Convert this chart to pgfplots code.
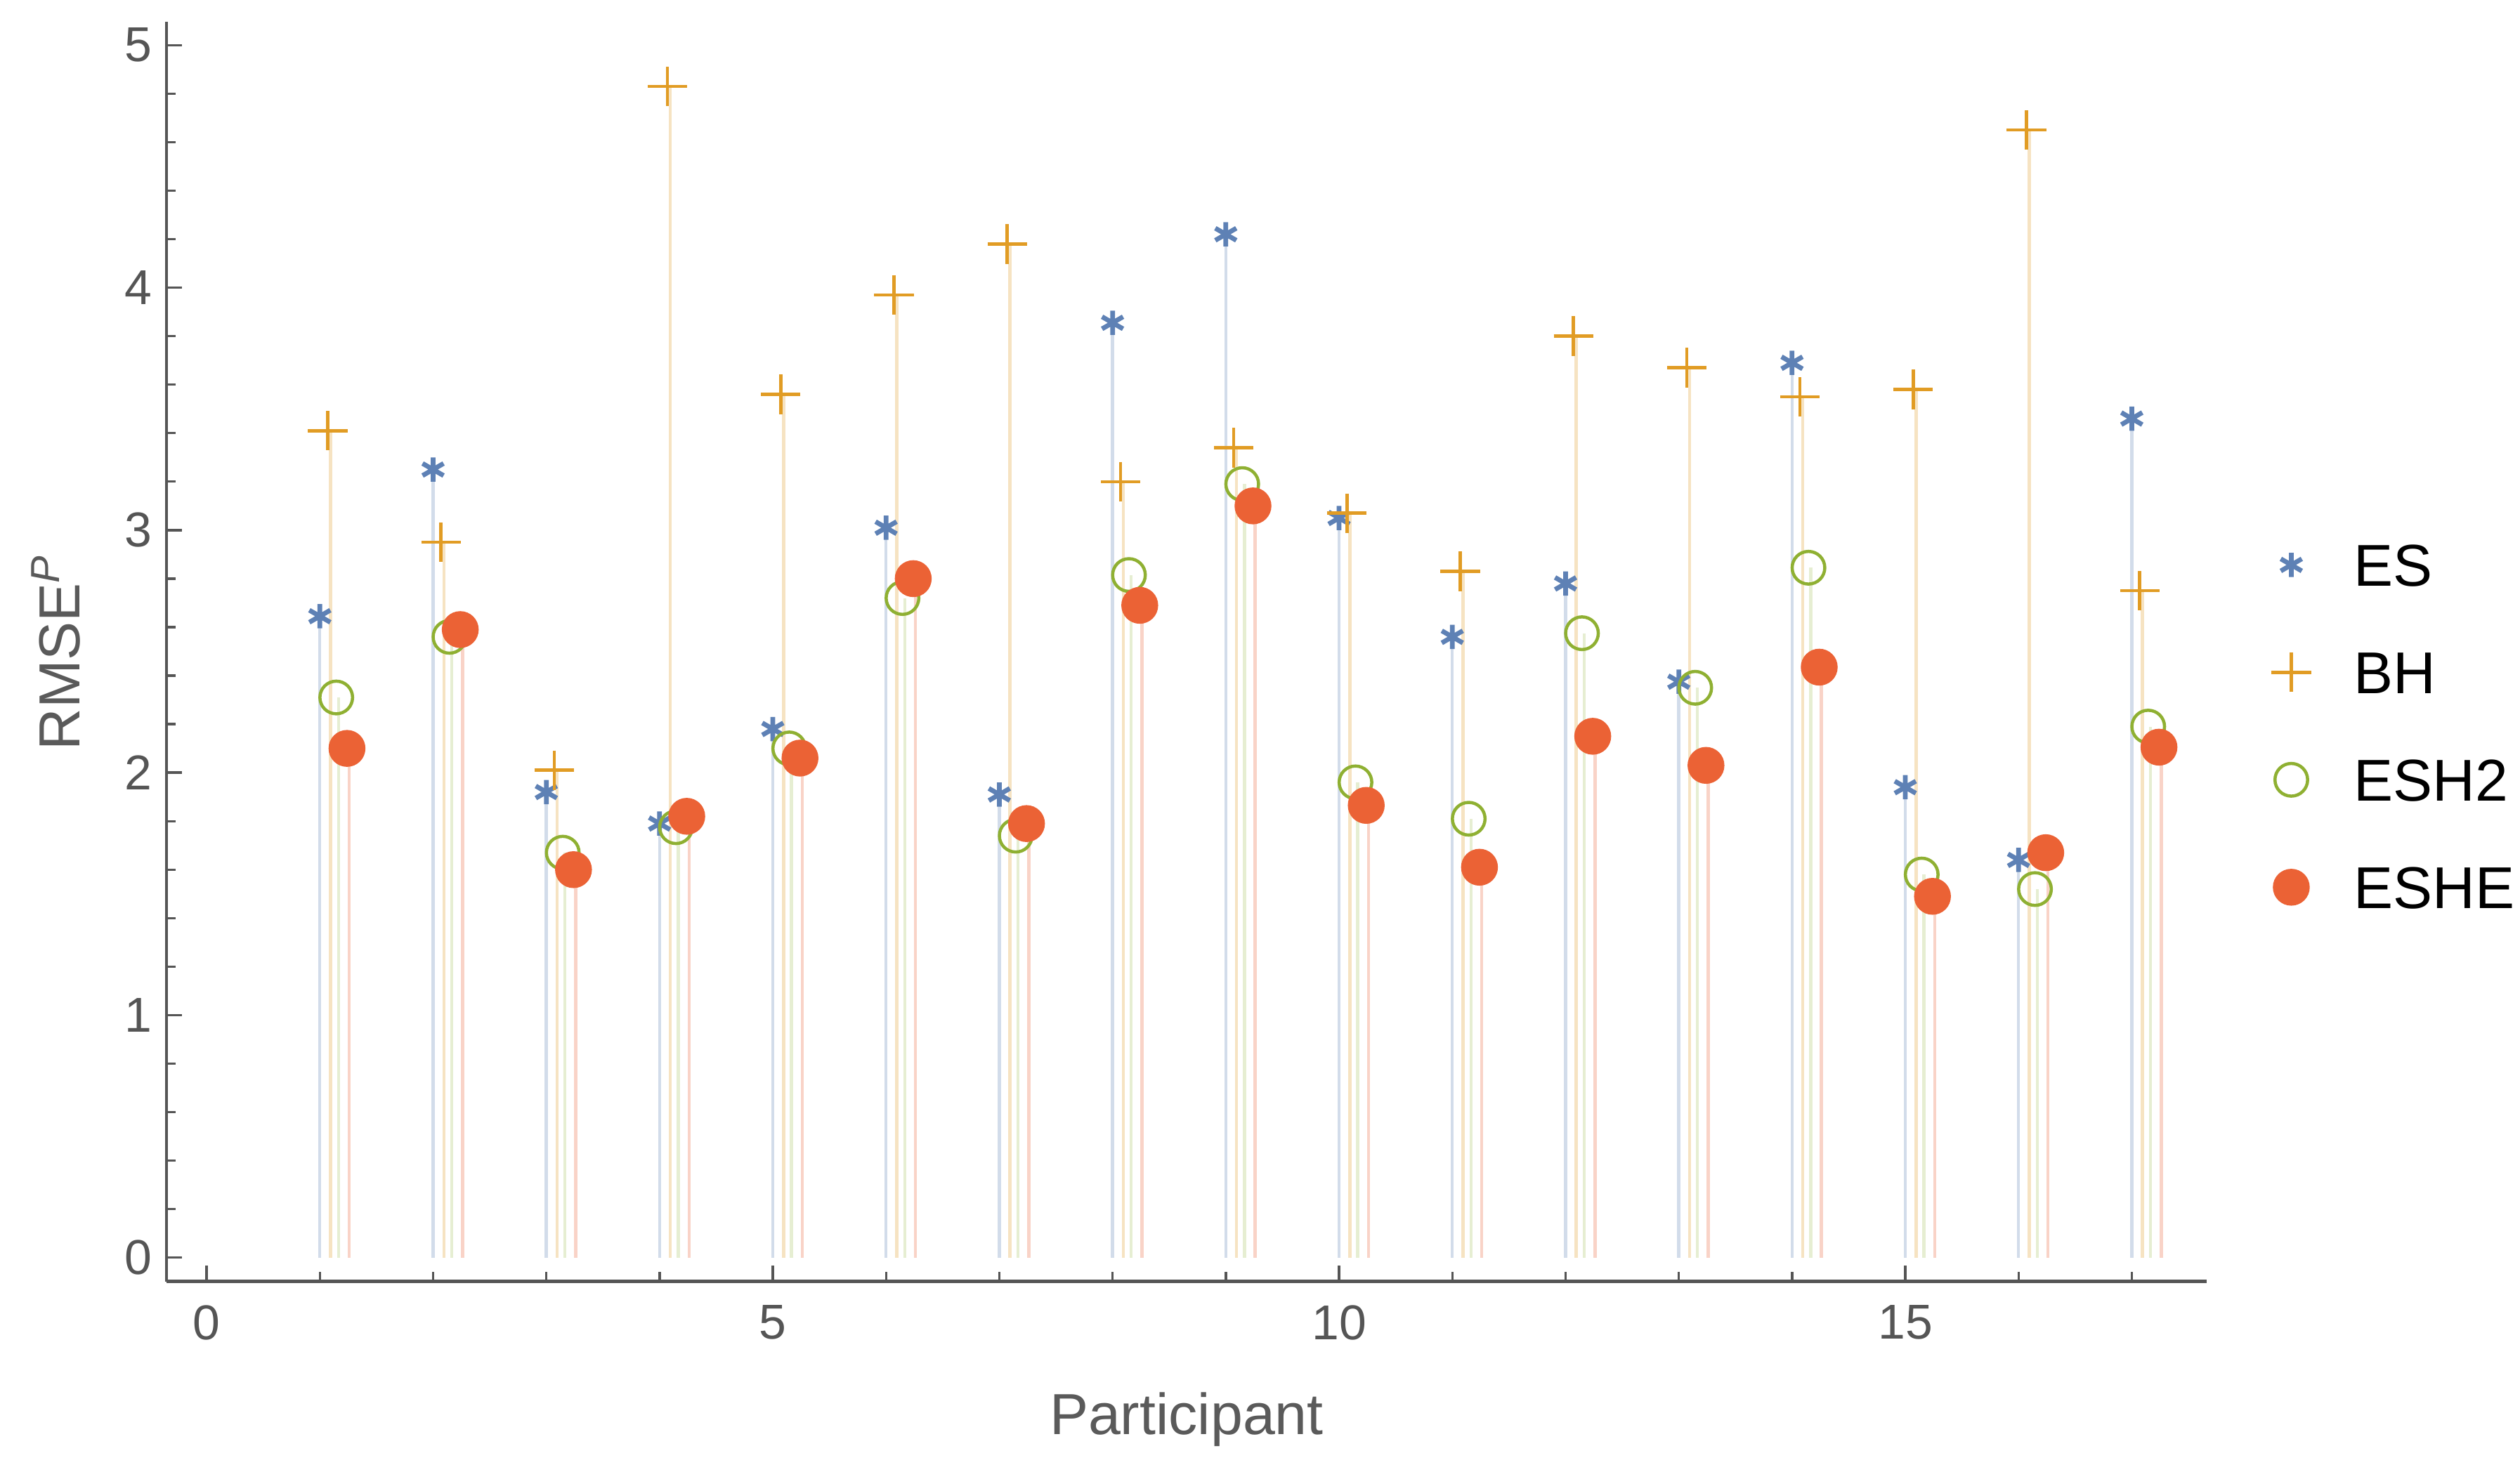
\documentclass[border=0pt]{standalone}
\usepackage{fontspec}
\setmainfont{Liberation Sans}
\usepackage{pgfplots}
\pgfplotsset{compat=1.18}
\usepackage{pgfplotstable}
\definecolor{cES}{rgb}{0.368417,0.506779,0.709798}
\definecolor{cBH}{rgb}{0.880722,0.611041,0.142051}
\definecolor{cESH}{rgb}{0.560181,0.691569,0.194885}
\definecolor{cESHE}{rgb}{0.922526,0.385626,0.209179}
\definecolor{axgray}{HTML}{555555}
\definecolor{labgray}{HTML}{5A5A5A}

\pgfplotstableread{
p es bh esh eshe
1 2.645 3.41 2.31 2.10
2 3.25 2.95 2.56 2.59
3 1.92 2.01 1.67 1.60
4 1.79 4.83 1.775 1.82
5 2.18 3.56 2.10 2.06
6 3.01 3.97 2.72 2.80
7 1.91 4.18 1.74 1.79
8 3.855 3.20 2.815 2.69
9 4.22 3.34 3.19 3.10
10 3.05 3.07 1.96 1.865
11 2.56 2.83 1.81 1.61
12 2.78 3.80 2.575 2.15
13 2.375 3.67 2.35 2.03
14 3.69 3.55 2.845 2.435
15 1.94 3.58 1.58 1.49
16 1.64 4.65 1.52 1.67
17 3.46 2.75 2.19 2.105
}\data

\begin{document}
\begin{tikzpicture}
\begin{axis}[
  at={(0pt,0pt)}, anchor=south west,
  scale only axis, width=387.2pt, height=239.1pt,
  xmin=-0.354, xmax=17.66, ymin=-0.098, ymax=5.095,
  axis lines=left,
  axis line style={-, line width=0.65pt, color=axgray},
  tick align=inside, major tick length=3pt, minor tick length=1.8pt,
  tick style={line width=0.45pt, color=axgray},
  xtick={0,5,10,15},
  minor xtick={1,2,3,4,6,7,8,9,11,12,13,14,16,17},
  ytick={0,1,2,3,4,5},
  minor y tick num=4,
  /pgf/number format/assume math mode=true,
  ticklabel style={font=\fontsize{9.3}{10}\selectfont, text=axgray},
  xticklabel style={yshift=-1pt},
  yticklabel style={xshift=0.8pt},
  xlabel={Participant},
  ylabel={RMSE\textsuperscript{\textit{P}}},
  every axis x label/.style={at={(axis description cs:0.5,0)}, anchor=base, yshift=-29pt, font=\fontsize{11}{12}\selectfont, text=labgray},
  every axis y label/.style={at={(axis description cs:-0.0424,0.5)}, rotate=90, anchor=base, font=\fontsize{11}{12}\selectfont, text=labgray},
  clip=false,
  legend image code/.code={\path[draw=none,fill=none] (0pt,0pt) (23.8pt,0pt);\draw[mark repeat=2,mark phase=2,#1,only marks] plot coordinates {(0pt,0pt)(11.9pt,0pt)(23.8pt,0pt)};},
  legend cell align=left,
  legend style={at={(axis description cs:1.0103,0.441)}, anchor=west, draw=none, fill=none,
    inner sep=0pt, column sep=0pt, row sep=12.4pt,
    nodes={inner sep=0pt, text height=8pt, text depth=0pt, font=\fontsize{11.2}{12}\selectfont, text=black}},
]
% stems
\addplot[forget plot, ycomb, no markers, line width=0.6pt, draw=cES!28!white] table[x expr=\thisrow{p}, y=es]{\data};
\addplot[forget plot, ycomb, no markers, line width=0.6pt, draw=cBH!28!white] table[x expr=\thisrow{p}+0.095, y=bh]{\data};
\addplot[forget plot, ycomb, no markers, line width=0.6pt, draw=cESH!22!white] table[x expr=\thisrow{p}+0.165, y=esh]{\data};
\addplot[forget plot, ycomb, no markers, line width=0.6pt, draw=cESHE!28!white] table[x expr=\thisrow{p}+0.26, y=eshe]{\data};
% marks
\addplot[only marks, mark=asterisk, mark size=2.3pt, line width=0.9pt, color=cES] table[x expr=\thisrow{p}, y=es]{\data};
\addlegendentry{ES}
\addplot[only marks, mark=+, mark size=3.75pt, line width=0.6pt, color=cBH] table[x expr=\thisrow{p}+0.07, y=bh]{\data};
\addlegendentry{BH}
\addplot[only marks, mark=o, mark size=3.1pt, line width=0.6pt, color=cESH, mark options={fill=none}] table[x expr=\thisrow{p}+0.145, y=esh]{\data};
\addlegendentry{ESH2}
\addplot[only marks, mark=*, mark size=3.3pt, color=cESHE, mark options={draw=none, fill=cESHE}] table[x expr=\thisrow{p}+0.24, y=eshe]{\data};
\addlegendentry{ESHE}
\end{axis}
\pgfresetboundingbox
\path[use as bounding box] (-31.6pt,-34.8pt) rectangle (446.7pt,243.3pt);
\end{tikzpicture}
\end{document}
